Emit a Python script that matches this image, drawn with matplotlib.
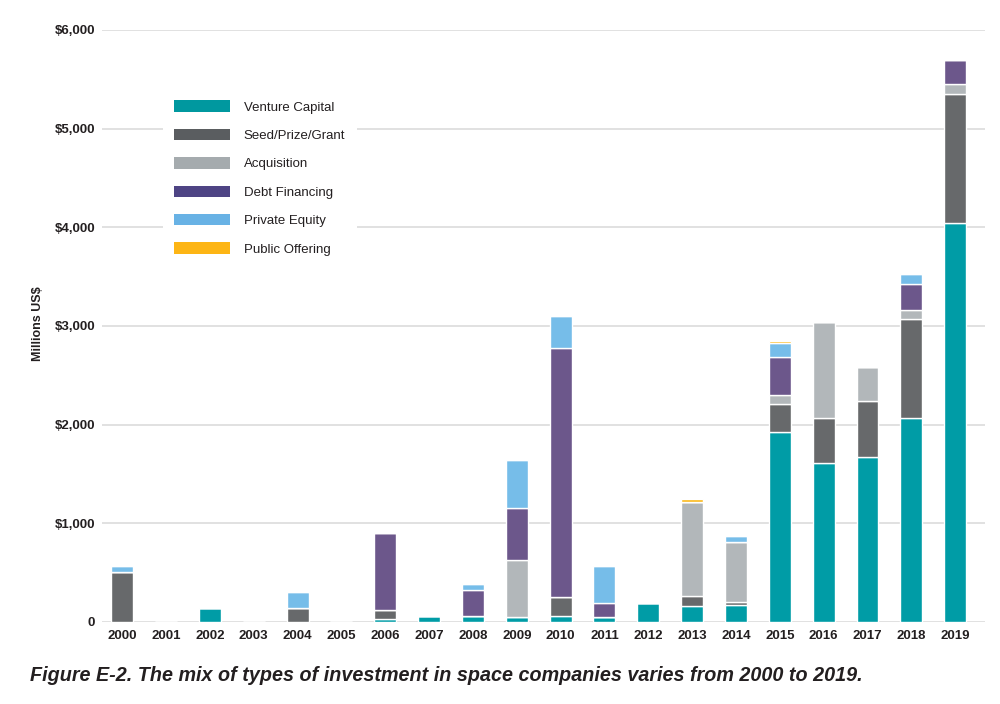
import numpy as np
import matplotlib.pyplot as plt
from matplotlib.patches import Patch

plt.rcParams['font.family'] = ['Liberation Sans', 'DejaVu Sans']

# Datos (millones de US$)
anios = [str(a) for a in range(2000, 2020)]
venture_capital = [0, 0, 140, 0, 0, 0, 30, 60, 65, 55, 65, 50, 190, 160, 175, 1930, 1615, 1675, 2070, 4040]
seed_prize_grant = [505, 0, 0, 0, 140, 0, 90, 0, 0, 0, 185, 0, 0, 105, 30, 275, 455, 565, 1000, 1310]
acquisition = [0, 0, 0, 0, 0, 0, 0, 0, 0, 575, 0, 0, 0, 955, 605, 100, 965, 345, 90, 105]
debt_financing = [0, 0, 0, 0, 0, 0, 780, 0, 260, 530, 2530, 140, 0, 0, 0, 380, 0, 0, 270, 240]
private_equity = [60, 0, 0, 0, 160, 0, 0, 0, 55, 485, 320, 375, 0, 0, 60, 140, 0, 0, 95, 0]
public_offering = [0, 0, 0, 0, 0, 0, 0, 0, 20, 0, 0, 0, 0, 30, 0, 20, 0, 0, 15, 0]

series = [
    ('Venture Capital', venture_capital, '#009ca6', '#00989f'),
    ('Seed/Prize/Grant', seed_prize_grant, '#67696b', '#5a5d60'),
    ('Acquisition', acquisition, '#b2b7ba', '#a5abae'),
    ('Debt Financing', debt_financing, '#6c578b', '#4e4484'),
    ('Private Equity', private_equity, '#76bde9', '#68b2e5'),
    ('Public Offering', public_offering, '#fbb817', '#fdb515'),
]

fig = plt.figure(figsize=(10, 7.04), dpi=100)
ax = fig.add_axes([0.102, 0.1165, 0.883, 0.841])

x = np.arange(len(anios))
base = np.zeros(len(anios))
handles = []
for nombre, valores, color, color_leyenda in series:
    v = np.array(valores, dtype=float)
    ax.bar(x, v, bottom=base, width=0.5, color=color, edgecolor='white', linewidth=1.0, zorder=3)
    base += v
    handles.append(Patch(facecolor=color_leyenda, edgecolor='none', label=nombre))

ax.set_xlim(-0.46, 19.68)
ax.set_ylim(0, 6000)
ax.set_yticks(range(0, 6001, 1000))
ax.set_yticklabels(['0'] + ['${:,}'.format(v) for v in range(1000, 6001, 1000)])
ax.set_xticks(x)
ax.set_xticklabels(anios)
for lbl in ax.get_xticklabels() + ax.get_yticklabels():
    lbl.set_fontweight('bold')
    lbl.set_fontsize(9.5)
    lbl.set_color('#231f20')
ax.tick_params(length=0, pad=6)
ax.tick_params(axis='y', pad=5)
ax.grid(axis='y', color='#dcdcdc', linewidth=1.2, zorder=0)
for s in ax.spines.values():
    s.set_visible(False)

fig.text(0.038, 0.54, 'Millions US$', rotation=90, fontsize=9, fontweight='bold',
         ha='center', va='center', color='#231f20')

leg = fig.legend(handles=handles, loc='upper left', bbox_to_anchor=(0.156, 1 - 82 / 704),
                 fontsize=9.5, frameon=True, facecolor='white', edgecolor='none', framealpha=1,
                 handlelength=4.2, handleheight=0.95, handletextpad=1.05, labelspacing=1.15,
                 borderpad=0.9, fancybox=False)
for t in leg.get_texts():
    t.set_color('#231f20')

fig.text(0.03, 0.041, 'Figure E-2. The mix of types of investment in space companies varies from 2000 to 2019.',
         fontsize=14.2, fontweight='bold', style='italic', color='#231f20', ha='left', va='center')

fig.savefig('out.png', dpi=100)
